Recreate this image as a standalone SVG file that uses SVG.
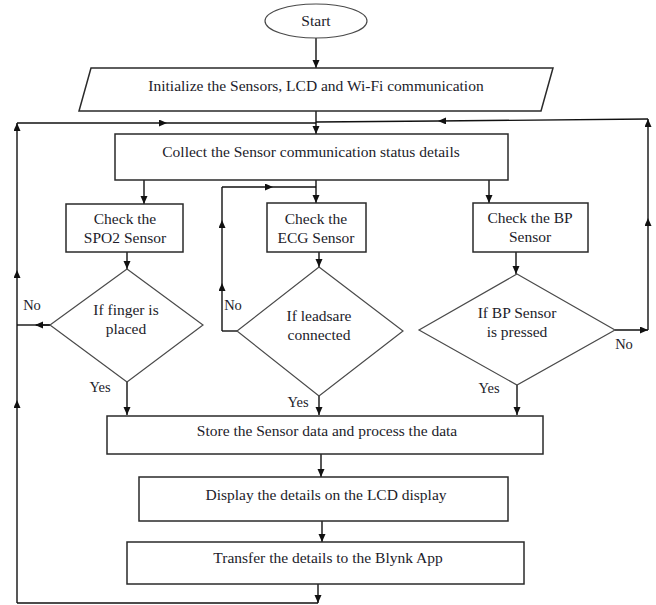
<svg xmlns="http://www.w3.org/2000/svg" width="656" height="605" viewBox="0 0 656 605">
<style>
.box{fill:#fff;stroke:#2a2a2a;stroke-width:1.5}
.dia{fill:#fff;stroke:#4a4a4a;stroke-width:1.2}
.ln{fill:none;stroke:#111;stroke-width:1.4}
.arr{fill:none;stroke:#111;stroke-width:1.4;marker-end:url(#ah)}
text{font-family:"Liberation Serif","Times New Roman",serif;font-size:15.5px;fill:#1c1c2a;text-anchor:middle}
.lbl{font-size:14.5px}
</style>
<defs>
<marker id="ah" markerUnits="userSpaceOnUse" markerWidth="9" markerHeight="8" refX="8" refY="3.5" orient="auto">
<path d="M0,0 L8,3.5 L0,7 z" fill="#111"/>
</marker>
</defs>
<rect width="656" height="605" fill="#fff"/>

<g id="connectors">
<path class="arr" d="M316,38 V68"/>
<path class="arr" d="M316,111 V134"/>
<path class="arr" d="M17,603 V400"/>
<path class="arr" d="M17,400 V270"/>
<path class="arr" d="M17,270 V123"/>
<path class="arr" d="M17,123 H167"/>
<path class="ln" d="M167,123 H316"/>
<path class="arr" d="M648,330 V218"/>
<path class="arr" d="M648,218 V119"/>
<path class="arr" d="M648,119 L438,121"/>
<path class="ln" d="M438,121 L316,122"/>
<path class="arr" d="M144,180 V204"/>
<path class="arr" d="M316,180 V203"/>
<path class="arr" d="M489,180 V203"/>
<path class="arr" d="M127,252 V269"/>
<path class="arr" d="M319,252 V267"/>
<path class="arr" d="M516,252 V274"/>
<path class="ln" d="M50,325 H36"/>
<path class="arr" d="M50,325 H35"/>
<path class="ln" d="M35,325 H17"/>
<path class="ln" d="M237,331 H222"/>
<path class="arr" d="M222,331 V283"/>
<path class="arr" d="M222,283 V220"/>
<path class="ln" d="M222,220 V187"/>
<path class="arr" d="M222,187 H273"/>
<path class="ln" d="M273,187 H316"/>
<path class="arr" d="M615,330 H648"/>
<path class="arr" d="M127,382 V415"/>
<path class="arr" d="M319,396 V415"/>
<path class="arr" d="M517,385 V415"/>
<path class="arr" d="M321,454 V477"/>
<path class="arr" d="M322,521 V542"/>
<path class="arr" d="M318,584 V603"/>
<path class="ln" d="M318,603 H17"/>
<text class="lbl" x="32" y="310">No</text>
<text class="lbl" x="233" y="310">No</text>
<text class="lbl" x="624" y="349">No</text>
<text class="lbl" x="100" y="392">Yes</text>
<text class="lbl" x="298" y="407">Yes</text>
<text class="lbl" x="489" y="393">Yes</text>
</g>

<g id="start">
<ellipse class="dia" cx="316" cy="21" rx="51" ry="17"/>
<text x="316" y="26">Start</text>
</g>

<g id="init">
<polygon class="box" points="91,68 553,68 541,111 79,111"/>
<text x="316" y="91">Initialize the Sensors, LCD and Wi-Fi communication</text>
</g>

<g id="collect">
<rect class="box" x="115" y="134" width="393" height="46"/>
<text x="311" y="157">Collect the Sensor communication status details</text>
</g>

<g id="spo2">
<rect class="box" x="66" y="204" width="117" height="48"/>
<text x="125" y="224">Check the</text>
<text x="125" y="243">SPO2 Sensor</text>
</g>

<g id="ecg">
<rect class="box" x="267" y="203" width="99" height="49"/>
<text x="316" y="224">Check the</text>
<text x="316" y="243">ECG Sensor</text>
</g>

<g id="bp">
<rect class="box" x="473" y="203" width="115" height="49"/>
<text x="530" y="223">Check the BP</text>
<text x="530" y="242">Sensor</text>
</g>

<g id="finger">
<polygon class="dia" points="127,269 203,325 127,382 50,325"/>
<text x="126" y="315">If finger is</text>
<text x="126" y="334">placed</text>
</g>

<g id="leads">
<polygon class="dia" points="319,267 403,331 319,396 237,331"/>
<text x="319" y="321">If leadsare</text>
<text x="319" y="340">connected</text>
</g>

<g id="pressed">
<polygon class="dia" points="517,274 615,330 517,385 419,330"/>
<text x="517" y="318">If BP Sensor</text>
<text x="517" y="337">is pressed</text>
</g>

<g id="store">
<rect class="box" x="107" y="416" width="436" height="38"/>
<text x="327" y="436">Store the Sensor data and process the data</text>
</g>

<g id="display">
<rect class="box" x="139" y="477" width="369" height="44"/>
<text x="326" y="500">Display the details on the LCD display</text>
</g>

<g id="transfer">
<rect class="box" x="127" y="542" width="397" height="42"/>
<text x="328" y="563">Transfer the details to the Blynk App</text>
</g>
</svg>
